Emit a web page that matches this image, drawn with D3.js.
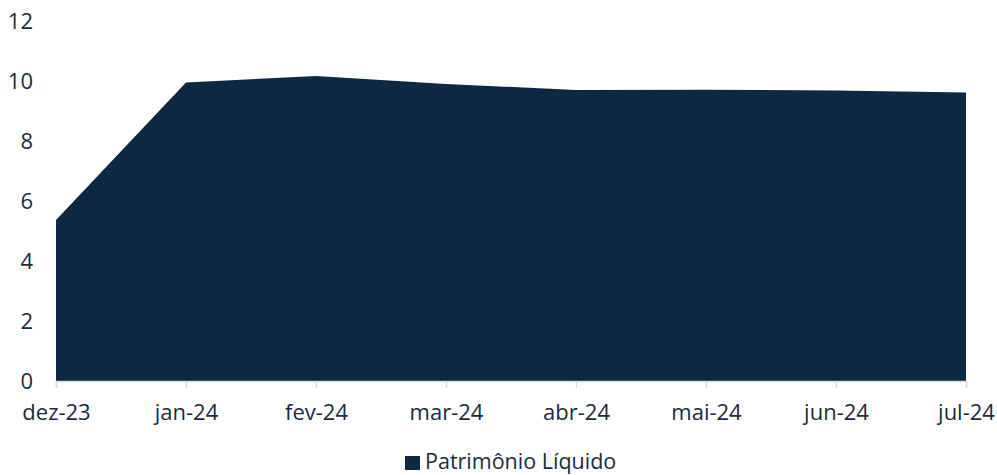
<!DOCTYPE html>
<html><head><meta charset="utf-8">
<script src="https://cdn.jsdelivr.net/npm/d3@7"></script>
<style>body{margin:0;background:#fff}text{font-family:"Open Sans",sans-serif}</style>
</head><body><svg id="c" width="997" height="475"></svg>
<script>
const categories = ["dez-23","jan-24","fev-24","mar-24","abr-24","mai-24","jun-24","jul-24"];
const values = [5.37, 9.95, 10.17, 9.9, 9.7, 9.71, 9.68, 9.62];
const yTicks = [0,2,4,6,8,10,12];
const seriesName = "Patrimônio Líquido";

const svg = d3.select("#c");
const color = "#0f2841", textColor = "#1d2b40";
const x = d3.scalePoint().domain(categories).range([56, 966]);
const y = d3.scaleLinear().domain([0,12]).range([381, 21]);

const area = d3.area().x((d,i)=>x(categories[i])).y0(y(0)).y1(d=>y(d));
svg.append("path").datum(values).attr("d", area).attr("fill", color);

// y axis labels
svg.selectAll(".yl").data(yTicks).enter().append("text")
  .attr("x", 33).attr("y", d=>y(d)).attr("dy","0.38em").attr("text-anchor","end")
  .attr("font-size", 22).attr("fill", textColor).text(d=>d);

// x axis
const xa = svg.append("g").attr("transform", `translate(0,${y(0)})`)
  .call(d3.axisBottom(x).tickSize(7).tickPadding(8));
xa.select(".domain").attr("stroke","#d9d9d9").attr("stroke-width",1.5);
xa.selectAll(".tick line").attr("stroke","#d9d9d9").attr("stroke-width",1.5);
xa.selectAll(".tick text").attr("font-size",22).attr("fill",textColor)
  .attr("font-family","'Open Sans',sans-serif").attr("dy",null).attr("y",39);

// legend
svg.append("rect").attr("x",405).attr("y",456).attr("width",15).attr("height",14).attr("fill",color);
svg.append("text").attr("x",425).attr("y",469).attr("font-size",21.5).attr("fill",textColor).text(seriesName);
</script></body></html>
